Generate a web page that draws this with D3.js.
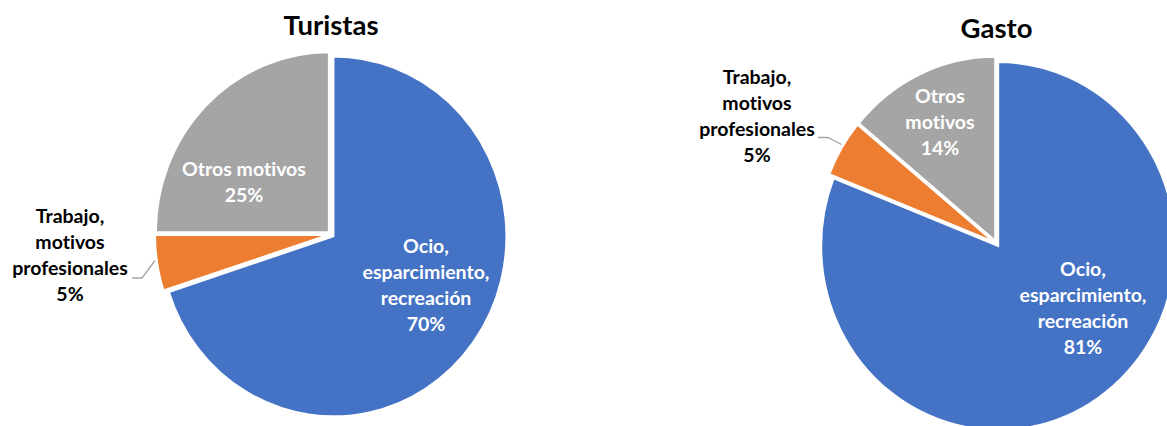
<!DOCTYPE html>
<html>
<head>
<meta charset="utf-8">
<script src="https://cdn.jsdelivr.net/npm/d3@7"></script>
<style>
  html, body { margin: 0; padding: 0; background: #fff; overflow: hidden; }
  svg { display: block; font-family: Lato, "Open Sans", sans-serif; font-variant-ligatures: none; font-feature-settings: "liga" 0, "clig" 0, "dlig" 0; }
</style>
</head>
<body>
<svg id="chart" width="1167" height="426"></svg>
<script>
// ---- data ----
const categories = ["Ocio, esparcimiento, recreación", "Trabajo, motivos profesionales", "Otros motivos"];
const labelLines = [["Ocio,", "esparcimiento,", "recreación"], ["Trabajo,", "motivos", "profesionales"], ["Otros motivos"]];
const labelLinesGasto = [["Ocio,", "esparcimiento,", "recreación"], ["Trabajo,", "motivos", "profesionales"], ["Otros", "motivos"]];
const turistas = [70, 5, 25];
const gasto = [81, 5, 14];
const titles = ["Turistas", "Gasto"];
const colors = ["#4472C4", "#ED7D31", "#A5A5A5"];

// ---- layout ----
const svg = d3.select("#chart");
const charts = [
  { title: titles[0], values: turistas, lines: labelLines, cx: 331, cy: 234.5, rx: 173, ry: 180, titleY: 35,
    labels: [{dx: 95, dy: 13, inside: true}, {dx: -261, dy: -17, inside: false, leader: [[-199, 43.5], [-189, 43.5], [-176, 26]]}, {dx: -87, dy: -64, inside: true}] },
  { title: titles[1], values: gasto, lines: labelLinesGasto, cx: 996.5, cy: 243.5, rx: 177, ry: 184, titleY: 38,
    labels: [{dx: 86.5, dy: 27, inside: true}, {dx: -239.5, dy: -165, inside: false, leader: [[-178.5, -106], [-168.5, -106], [-155, -99]]}, {dx: -56.5, dy: -146, inside: true}] }
];
const explode = 3;
const lineH = 26;

const pie = d3.pie().sort(null).value(d => d);

charts.forEach(c => {
  const data = pie(c.values);
  const r = c.rx;
  const arc = d3.arc().innerRadius(0).outerRadius(r);
  const g = svg.append("g").attr("transform", `translate(${c.cx},${c.cy}) scale(1,${c.ry / c.rx})`);
  g.selectAll("path").data(data).join("path")
    .attr("d", arc)
    .attr("fill", (d, i) => colors[i])
    .attr("stroke", "#fff")
    .attr("stroke-width", 2)
    .attr("stroke-linejoin", "miter")
    .attr("transform", d => {
      const a = (d.startAngle + d.endAngle) / 2;
      return `translate(${explode * Math.sin(a)},${-explode * Math.cos(a)})`;
    });

  svg.append("text")
    .attr("x", c.cx).attr("y", c.titleY)
    .attr("text-anchor", "middle")
    .attr("font-weight", "bold")
    .attr("font-size", 27.5)
    .attr("fill", "#000")
    .text(c.title);

  data.forEach((d, i) => {
    const L = c.labels[i];
    const lines = c.lines[i].concat([d.data + "%"]);
    const t = svg.append("text")
      .attr("text-anchor", "middle")
      .attr("font-weight", "bold")
      .attr("font-size", 19.5)
      .attr("fill", L.inside ? "#fff" : "#000");
    lines.forEach((s, k) => {
      t.append("tspan")
        .attr("x", c.cx + L.dx)
        .attr("y", c.cy + L.dy + k * lineH)
        .attr("dominant-baseline", "middle")
        .text(s);
    });
    if (L.leader) {
      svg.append("polyline")
        .attr("points", L.leader.map(p => [c.cx + p[0], c.cy + p[1]].join(",")).join(" "))
        .attr("fill", "none")
        .attr("stroke", "#A6A6A6")
        .attr("stroke-width", 1.3);
    }
  });
});
</script>
</body>
</html>
